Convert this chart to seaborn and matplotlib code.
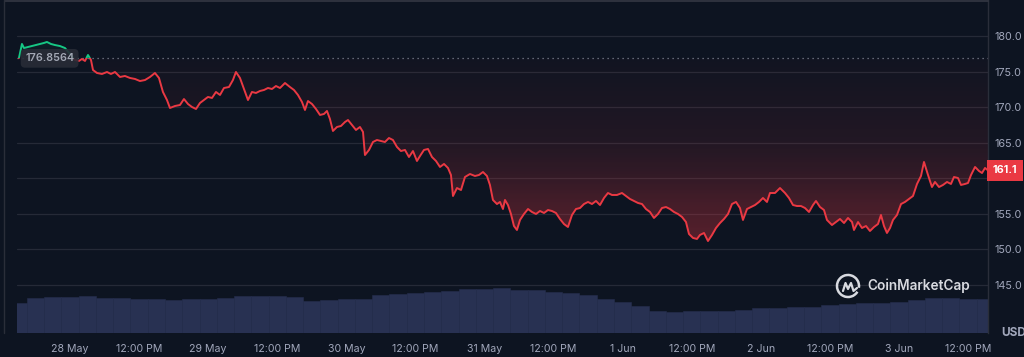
import numpy as np
import matplotlib
matplotlib.use("Agg")
import matplotlib.pyplot as plt
from matplotlib.patches import Polygon, Rectangle, Arc
from matplotlib.colors import LinearSegmentedColormap
from matplotlib.lines import Line2D
import seaborn as sns
import pandas as pd

# price trace, hours counted from 28 May 00:00
hours = [-8.86, -8.34, -7.99, -7.30, -6.60, -5.91, -5.21, -4.52, -4.00, -3.30, -2.61, -1.74, -0.87,
         0.00, 0.87, 1.56, 2.08, 2.61, 3.13, 3.65, 4.00, 4.69, 5.56, 6.43, 7.12, 7.82, 8.69, 9.55,
         10.42, 11.29, 12.16, 13.03, 13.90, 14.76, 15.46, 16.15, 16.85, 17.37, 18.24, 19.11, 19.80,
         20.50, 21.19, 21.89, 22.58, 23.28, 23.97, 24.67, 25.36, 26.06, 26.75, 27.62, 28.31, 28.83,
         29.53, 30.22, 30.92, 31.61, 32.31, 33.00, 33.70, 34.39, 35.09, 35.78, 36.48, 37.35, 38.21,
         38.91, 39.60, 40.30, 40.82, 41.34, 42.04, 42.73, 43.43, 44.12, 44.64, 45.16, 45.68, 46.38,
         47.07, 47.77, 48.29, 48.98, 49.68, 50.37, 50.90, 51.24, 51.94, 52.63, 53.32, 54.02, 54.71,
         55.41, 56.10, 56.80, 57.49, 58.19, 58.88, 59.58, 60.27, 60.80, 61.49, 62.19, 62.88, 63.58,
         64.27, 64.97, 65.66, 66.18, 66.53, 67.22, 67.92, 68.61, 69.48, 70.35, 71.04, 71.74, 72.43,
         72.95, 73.47, 74.17, 74.69, 75.21, 75.56, 76.08, 76.60, 77.12, 77.64, 78.17, 78.86, 79.56,
         80.25, 80.95, 81.64, 82.34, 83.03, 83.72, 84.42, 85.11, 85.81, 86.50, 87.20, 87.89, 88.59,
         89.28, 89.98, 90.67, 91.37, 92.06, 92.76, 93.45, 94.15, 95.01, 95.88, 96.58, 97.27, 97.97,
         98.66, 99.36, 100.05, 100.75, 101.44, 102.14, 102.83, 103.53, 104.22, 104.92, 105.61, 106.31,
         107.00, 107.52, 108.22, 108.91, 109.43, 110.13, 110.82, 111.52, 112.21, 112.91, 113.60,
         114.30, 114.99, 115.69, 116.38, 116.90, 117.60, 118.29, 118.99, 119.68, 120.37, 121.07,
         121.59, 122.46, 123.33, 124.20, 124.89, 125.59, 126.28, 126.98, 127.67, 128.37, 129.06,
         129.58, 130.28, 130.97, 131.49, 132.36, 133.06, 133.75, 134.45, 135.14, 135.84, 136.18,
         136.88, 137.57, 138.27, 138.96, 139.66, 140.35, 140.87, 141.39, 141.91, 142.44, 142.96,
         143.65, 144.35, 145.04, 145.74, 146.43, 147.13, 147.82, 148.34, 149.04, 149.73, 150.25,
         150.95, 151.64, 152.34, 153.03, 153.55, 154.25, 154.77, 155.47, 155.99, 156.51, 157.21,
         157.90, 158.42, 158.94, 159.46]
price = [176.91, 178.88, 178.31, 178.45, 178.59, 178.73, 178.88, 179.02, 179.16, 178.88, 178.73, 178.59, 178.31,
         177.47, 176.63, 176.49, 176.77, 176.49, 177.33, 176.63, 175.22, 174.80, 174.66, 174.94, 174.66, 174.94, 174.24, 174.38,
         174.10, 173.96, 173.67, 173.81, 174.24, 174.80, 174.10, 172.13, 171.00, 169.88, 170.16, 170.30, 171.14,
         170.44, 170.02, 169.74, 170.58, 171.00, 171.43, 171.29, 172.13, 171.71, 172.69, 172.83, 173.81, 174.94,
         174.10, 172.55, 171.00, 172.13, 171.99, 172.27, 172.41, 172.69, 172.55, 172.97, 172.69, 173.39, 172.83,
         172.41, 171.71, 170.72, 169.60, 170.86, 170.44, 169.74, 168.90, 169.04, 169.46, 168.33, 166.65, 167.21,
         167.35, 167.91, 168.19, 167.49, 166.79, 167.21, 166.51, 163.27, 163.98, 165.10, 165.38, 165.24, 165.10,
         165.66, 165.38, 164.40, 163.83, 163.98, 162.99, 163.83, 162.43, 163.13, 163.98, 164.12, 162.99, 162.43,
         161.59, 162.01, 161.45, 160.46, 157.51, 158.63, 158.35, 160.18, 160.60, 160.32, 160.46, 160.88, 160.32,
         159.06, 156.95, 156.38, 156.67, 155.68, 156.95, 156.24, 154.98, 153.29, 152.73, 154.14, 154.98, 155.68,
         155.26, 154.98, 155.40, 155.12, 155.54, 155.40, 155.12, 154.28, 153.57, 153.15, 154.84, 155.68, 155.82,
         156.38, 156.67, 156.38, 156.81, 156.24, 157.23, 157.93, 157.65, 157.65, 157.93, 157.51, 157.09, 156.81,
         156.53, 156.38, 155.68, 155.26, 154.42, 154.98, 155.82, 155.96, 155.68, 155.26, 154.98, 154.56,
         153.85, 152.17, 151.61, 151.47, 152.03, 152.31, 151.18, 152.03, 153.01, 153.71, 154.28,
         154.98, 156.38, 156.67, 155.82, 154.14, 155.68, 155.96, 156.24, 156.67, 157.23, 156.67,
         157.93, 157.93, 158.63, 157.93, 157.23, 156.24, 156.10, 156.10, 155.82, 155.26, 156.24,
         156.81, 155.96, 155.54, 154.14, 153.43, 153.85, 154.28, 153.71, 154.42, 153.85, 152.73,
         153.85, 153.01, 153.29, 152.59, 153.15, 153.57, 154.84, 153.29, 152.31, 153.01, 154.14,
         154.84, 156.38, 156.67, 157.09, 157.51, 159.20, 160.32, 162.29, 160.46, 158.77, 159.48,
         158.77, 159.06, 159.48, 159.20, 160.18, 160.04, 159.06, 159.20, 159.34, 160.46, 161.59,
         161.02, 160.74, 161.45, 161.10]
open_price = 176.8564
last_price = 161.1

# volume bars every 3 hours (relative height)
vol_hours = list(range(-9, 160, 3))
volume = [30, 35, 36, 36, 37, 35, 35, 34.5, 34, 33.5, 34, 34, 35, 37, 37.5, 37, 36, 32.5, 33.5,
          34, 34, 38.5, 39, 40.5, 41, 42, 44, 44, 45.5, 43.5, 43, 41, 40, 38, 34, 31, 27, 22,
          21, 22, 22, 22, 23.5, 25, 25.5, 26, 26.5, 28, 29.5, 30, 30, 31.5, 33, 35, 35, 34.5, 34]

tick_hours = list(range(0, 157, 12))
tick_labels = ["28 May", "12:00 PM", "29 May", "12:00 PM", "30 May", "12:00 PM", "31 May",
               "12:00 PM", "1 Jun", "12:00 PM", "2 Jun", "12:00 PM", "3 Jun", "12:00 PM"]
y_ticks = [145, 150, 155, 160, 165, 170, 175, 180]

BG = "#0d1421"
RED = "#ea3943"
GREEN = "#16c784"
TXT = "#a1a7bb"

sns.set_theme(style="dark")
plt.rcParams["font.family"] = ["Inter", "DejaVu Sans"]

df = pd.DataFrame({"hours": hours, "price": price})

fig = plt.figure(figsize=(10.24, 3.57), dpi=100, facecolor=BG)
rect = [17 / 1024, 24 / 357, 971 / 1024, 333 / 357]
xlim = (-9.2, 159.46)
ylim = (138.25, 185.06)

# volume underneath
ax_vol = fig.add_axes(rect, facecolor=BG)
ax_vol.bar(vol_hours, volume, width=3, color="#283152", edgecolor="#252e4d", linewidth=0.4)
ax_vol.set_xlim(xlim)
ax_vol.set_ylim(0, 333)
ax_vol.axis("off")

ax = fig.add_axes(rect, facecolor="none")
ax.set_xlim(xlim)
ax.set_ylim(ylim)

# gradient fills between price and the open price
below = np.minimum(df["price"].values, open_price)
above = np.maximum(df["price"].values, open_price)
h = df["hours"].values
poly_red = Polygon(np.column_stack([np.r_[h[0], h, h[-1]], np.r_[open_price, below, open_price]]),
                   closed=True, facecolor="none", edgecolor="none", transform=ax.transData)
poly_green = Polygon(np.column_stack([np.r_[h[0], h, h[-1]], np.r_[open_price, above, open_price]]),
                     closed=True, facecolor="none", edgecolor="none", transform=ax.transData)
ax.add_patch(poly_red)
ax.add_patch(poly_green)

r, g, b = 0.92, 0.22, 0.26
cmap_red = LinearSegmentedColormap.from_list("r", [(0.0, (r, g, b, 0.02)), (0.31, (r, g, b, 0.10)),
                                                   (0.44, (r, g, b, 0.18)), (0.52, (r, g, b, 0.25)),
                                                   (0.67, (r, g, b, 0.34)), (1.0, (r, g, b, 0.48))])
cmap_green = LinearSegmentedColormap.from_list("g", [(0.09, 0.78, 0.52, 0.0), (0.09, 0.78, 0.52, 0.3)])
grad = np.linspace(1, 0, 256).reshape(-1, 1)
im_r = ax.imshow(grad, extent=[xlim[0], xlim[1], ylim[0], open_price], origin="lower",
                 aspect="auto", cmap=cmap_red, zorder=1)
im_r.set_clip_path(poly_red)
im_g = ax.imshow(grad[::-1], extent=[xlim[0], xlim[1], open_price, ylim[1]], origin="lower",
                 aspect="auto", cmap=cmap_green, zorder=1)
im_g.set_clip_path(poly_green)

# line: red below the open price, green above
sns.lineplot(data=df, x="hours", y="price", color=RED, lw=1.4, estimator=None, sort=False, ax=ax, zorder=3)
sns.lineplot(data=df, x="hours", y="price", color=GREEN, lw=1.4, estimator=None, sort=False, ax=ax, zorder=3)
clip_lo = Rectangle((xlim[0], ylim[0]), xlim[1] - xlim[0], open_price - ylim[0], transform=ax.transData)
clip_hi = Rectangle((xlim[0], open_price), xlim[1] - xlim[0], ylim[1] - open_price, transform=ax.transData)
ax.lines[-2].set_clip_path(clip_lo)
ax.lines[-1].set_clip_path(clip_hi)

ax.set_xlim(xlim)
ax.set_ylim(ylim)

ax.axhline(open_price, color="#7d8290", ls=(0, (1, 3)), lw=0.9, zorder=2)
for v in y_ticks:
    ax.axhline(v, color="#252a37", lw=0.9, zorder=0)

ax.set_xticks(tick_hours)
ax.set_xticklabels(tick_labels)
ax.set_yticks(y_ticks)
# the 160.0 label sits under the last price tag
ax.set_yticklabels(["" if v == 160 else f"{v:.1f}" for v in y_ticks])
ax.yaxis.tick_right()
ax.tick_params(axis="x", colors=TXT, labelsize=7.6, length=0, pad=8)
ax.tick_params(axis="y", colors=TXT, labelsize=7.8, length=0, pad=4.5)
ax.set_xlabel("")
ax.set_ylabel("")
ax.grid(False)
for s in ["top", "bottom", "left"]:
    ax.spines[s].set_visible(False)
ax.spines["right"].set_color("#2a2e3a")
ax.spines["right"].set_linewidth(1)

# open price tag and last price tag
ax.text(-7.8, open_price, "176.8564", color="#a3a8b5", fontsize=7.8, fontweight="semibold",
        va="center", ha="left", zorder=5,
        bbox=dict(boxstyle="round,pad=0.4", facecolor="#282c37", edgecolor="none", alpha=0.9))
ax.annotate(f"{last_price}", xy=(1, last_price), xycoords=("axes fraction", "data"),
            xytext=(3.5, 0), textcoords="offset points", color="white", fontsize=7.8,
            fontweight="bold", va="center", ha="left", annotation_clip=False,
            bbox=dict(boxstyle="square,pad=0.5", facecolor=RED, edgecolor="none"))

fig.text(1001 / 1024, 1 - 333 / 357, "USD", color=TXT, fontsize=8.5, fontweight="bold", va="center")

# frame lines
fig.add_artist(Line2D([5 / 1024, 988 / 1024], [0.998, 0.998], color="#343843", lw=1.2))
fig.add_artist(Line2D([4 / 1024, 4 / 1024], [24 / 357, 1], color="#2a2e39", lw=1))

# watermark
fig.add_artist(Arc((848 / 1024, 1 - 286 / 357), 22 / 1024, 22 / 357, theta1=-25, theta2=300,
                   color="#d8dae0", lw=1.8))
fig.add_artist(Line2D(np.array([843, 845.5, 848, 851, 853.5, 857]) / 1024,
                      1 - np.array([291, 283, 289, 283, 291, 288]) / 357, color="#d8dae0", lw=1.6))
fig.text(867 / 1024, 1 - 286 / 357, "CoinMarketCap", color="#d8dae0", fontsize=9.8,
         fontweight="semibold", va="center", ha="left")

fig.savefig("out.png", dpi=100, facecolor=BG)
